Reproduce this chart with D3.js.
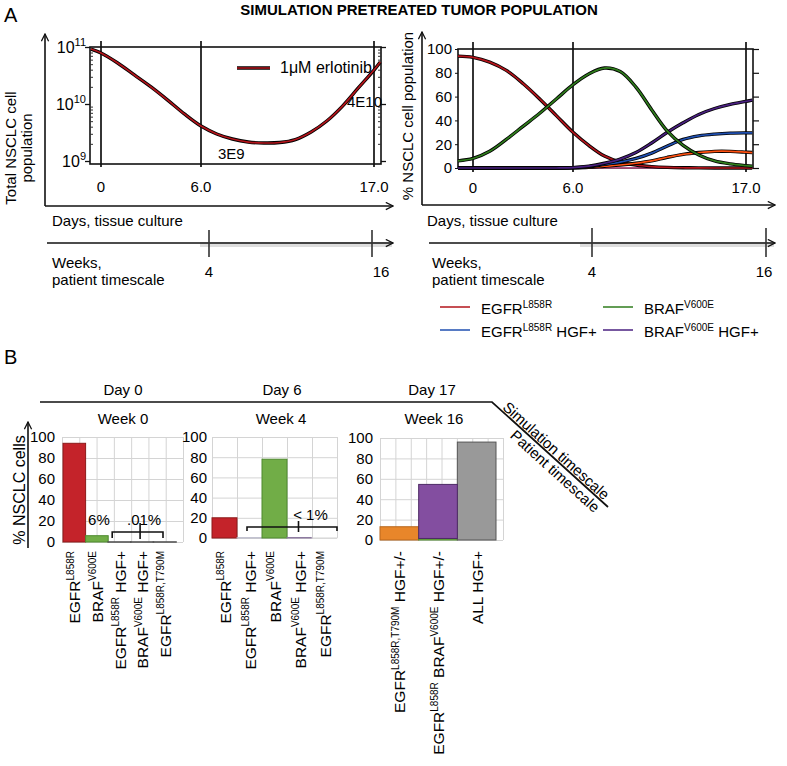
<!DOCTYPE html>
<html><head><meta charset="utf-8">
<script src="https://cdn.jsdelivr.net/npm/d3@7"></script>
<style>
body{margin:0;background:#fff}
text{font-family:"Liberation Sans",Arial,Helvetica,sans-serif;fill:#000}
</style>
</head><body>
<svg id="c" width="787" height="766"></svg>
<script>
// ---------------- DATA ----------------
// Panel A left: total NSCLC cell population (1 uM erlotinib)
const totalDays  = [-0.6, 0, 1, 2, 3, 4, 5, 6, 7, 8, 9, 10, 11, 12, 13, 14, 15, 16, 17, 17.4];
const totalCells = [9.2e10, 7.85e10, 5.24e10, 3.23e10, 1.99e10, 1.17e10, 6.7e9, 4.1e9, 2.98e9, 2.43e9, 2.15e9, 2.07e9, 2.11e9, 2.38e9, 3.23e9, 5.04e9, 9.2e9, 1.91e10, 3.94e10, 5.46e10];
const logTicks = [1e9, 1e10, 1e11];
const logTickLabels = ["10^{9}", "10^{10}", "10^{11}"];
const dayMarks = [0, 6, 17];
const dayLabels = ["0", "6.0", "17.0"];
const weekMarks = [4, 16];

// Panel A right: % NSCLC cell population
const pctDays     = [-0.9, 0, 1, 2, 3, 4, 5, 6, 7, 8, 9, 10, 11, 12, 13, 14, 15, 16, 17, 17.4];
const pctEGFR     = [94, 93, 89, 82, 71, 58, 44, 30, 19, 10, 5, 2.5, 1.2, 0.5, 0.2, 0.1, 0, 0, 0, 0];
const pctBRAF     = [6, 8, 14, 24, 35, 46, 58, 70, 79, 84, 81, 68, 49, 31, 19, 11, 6, 3.5, 2, 1.5];
const pctEGFRHGF  = [0, 0, 0, 0, 0, 0, 0, 0.2, 1, 3, 5, 8, 12.5, 18.5, 24, 27, 28.5, 29.3, 29.5, 29.5];
const pctBRAFHGF  = [0, 0, 0, 0, 0, 0, 0, 0.3, 1.5, 4, 7.5, 13, 21, 30, 38, 45, 50, 53.5, 56, 57];
const pctT790MHGF = [0, 0, 0, 0, 0, 0, 0, 0.1, 0.5, 1.5, 2.5, 4, 6, 9, 11.5, 13, 14, 14, 13.3, 13];
const pctT790M    = [0.1, 0.1, 0.1, 0.1, 0.1, 0.1, 0.1, 0.1, 0.1, 0.1, 0.1, 0.1, 0.1, 0.1, 0.1, 0.1, 0.1, 0.1, 0.1, 0.1];
const pctTicks = [0, 20, 40, 60, 80, 100];
const legendNames = ["EGFR^{L858R}", "BRAF^{V600E}", "EGFR^{L858R} HGF+", "BRAF^{V600E} HGF+"];

// Panel B bar charts
const barTicks = [0, 20, 40, 60, 80, 100];
const week0Cats = ["EGFR^{L858R}", "BRAF^{V600E}", "EGFR^{L858R} HGF+", "BRAF^{V600E} HGF+", "EGFR^{L858R,T790M}"];
const week0Vals = [94, 6, 0.01, 0.01, 0.01];
const week4Cats = ["EGFR^{L858R}", "EGFR^{L858R} HGF+", "BRAF^{V600E}", "BRAF^{V600E} HGF+", "EGFR^{L858R,T790M}"];
const week4Vals = [20, 0.3, 78, 0.5, 0.1];
const week16Cats = ["EGFR^{L858R,T790M} HGF+/-", "EGFR^{L858R} BRAF^{V600E} HGF+/-", "ALL HGF+"];
const week16Lower = [13, 1.5, 96];
const week16Upper = [0, 53, 0];

// ---------------- DRAWING ----------------
const svg = d3.select("#c");
svg.append("rect").attr("width", 787).attr("height", 766).attr("fill", "#fff");
const defs = svg.append("defs");
defs.append("marker").attr("id", "arr").attr("viewBox", "0 0 10 10")
  .attr("refX", 9).attr("refY", 5).attr("markerWidth", 9).attr("markerHeight", 9)
  .attr("markerUnits", "userSpaceOnUse").attr("orient", "auto")
  .append("path").attr("d", "M1,1 L9,5 L1,9").attr("fill", "none").attr("stroke", "#111").attr("stroke-width", 1.4);

function rich(sel, str, size, supSize) {
  const parts = str.split(/(\^\{[^}]*\})/).filter(s => s.length);
  let shifted = false;
  parts.forEach(p => {
    if (p.startsWith("^{")) {
      sel.append("tspan").text(p.slice(2, -1)).attr("font-size", supSize).attr("dy", -size * 0.42);
      shifted = true;
    } else {
      const t = sel.append("tspan").text(p).attr("font-size", size);
      if (shifted) { t.attr("dy", size * 0.42); shifted = false; }
    }
  });
}
function txt(x, y, s, size, anchor, weight) {
  return svg.append("text").attr("x", x).attr("y", y).attr("font-size", size)
    .attr("text-anchor", anchor || "start").attr("font-weight", weight || "normal").text(s);
}
function arrowLine(x1, y1, x2, y2, w) {
  svg.append("line").attr("x1", x1).attr("y1", y1).attr("x2", x2).attr("y2", y2)
    .attr("stroke", "#111").attr("stroke-width", w || 1.6).attr("marker-end", "url(#arr)");
}
const smooth = d3.curveCatmullRom.alpha(0.5);

// Titles
txt(419, 15, "SIMULATION PRETREATED TUMOR POPULATION", 15, "middle", "bold");
txt(4, 22, "A", 20);
txt(4, 364, "B", 20);

// ===== Panel A left =====
const xL = d3.scaleLinear().domain([0, 6, 17]).range([101, 201, 374]);
const yL = d3.scaleLog().domain([1e9, 1e11]).range([161, 47]);
const gL = svg.append("g");
gL.append("rect").attr("x", 90).attr("y", 47).attr("width", 291).attr("height", 117)
  .attr("fill", "none").attr("stroke", "#111").attr("stroke-width", 1.6);
const minor = yL.ticks().filter(v => !logTicks.includes(v));
[[90, d3.axisRight], [381, d3.axisLeft]].forEach(([x, ax]) => {
  gL.append("g").attr("transform", `translate(${x},0)`)
    .call(ax(yL).tickValues(minor).tickSize(3).tickFormat(""))
    .call(g => g.select(".domain").remove())
    .call(g => g.selectAll("line").attr("stroke", "#333").attr("stroke-width", 1));
});
[[90, d3.axisLeft], [381, d3.axisRight]].forEach(([x, ax]) => {
  gL.append("g").attr("transform", `translate(${x},0)`)
    .call(ax(yL).tickValues(logTicks).tickSize(5).tickFormat(""))
    .call(g => g.select(".domain").remove())
    .call(g => g.selectAll("line").attr("stroke", "#111").attr("stroke-width", 1.3));
});
logTicks.forEach((v, i) => {
  const t = gL.append("text").attr("x", 86).attr("y", yL(v) + 6).attr("text-anchor", "end");
  rich(t, logTickLabels[i], 16, 11);
});
dayMarks.forEach((d, i) => {
  gL.append("line").attr("x1", xL(d)).attr("x2", xL(d)).attr("y1", 41).attr("y2", 167)
    .attr("stroke", "#111").attr("stroke-width", 1.7);
  gL.append("text").attr("x", xL(d)).attr("y", 192).attr("text-anchor", "middle")
    .attr("font-size", 15).text(dayLabels[i]);
});
const lineL = d3.line().x(d => xL(d[0])).y(d => yL(d[1])).curve(smooth);
const totalPts = totalDays.map((d, i) => [d, totalCells[i]]);
gL.append("path").attr("d", lineL(totalPts)).attr("fill", "none").attr("stroke", "#000").attr("stroke-width", 3.4);
gL.append("path").attr("d", lineL(totalPts)).attr("fill", "none").attr("stroke", "#b3141b").attr("stroke-width", 1.7);
gL.append("line").attr("x1", 237).attr("x2", 270).attr("y1", 68).attr("y2", 68).attr("stroke", "#000").attr("stroke-width", 3.4);
gL.append("line").attr("x1", 237).attr("x2", 270).attr("y1", 68).attr("y2", 68).attr("stroke", "#b3141b").attr("stroke-width", 1.7);
txt(280, 73, "1μM erlotinib", 16);
txt(218, 159, "3E9", 15);
txt(347, 107, "4E10", 15);
// axes arrows
arrowLine(45, 206, 45, 34);
arrowLine(45, 206, 393, 206);
svg.append("text").attr("transform", "translate(16,148) rotate(-90)").attr("text-anchor", "middle").attr("font-size", 15).text("Total NSCLC cell");
svg.append("text").attr("transform", "translate(32,148) rotate(-90)").attr("text-anchor", "middle").attr("font-size", 15).text("population");
txt(52, 226, "Days, tissue culture", 15);
// weeks axis
const wL = d3.scaleLinear().domain([4, 16]).range([209, 372]);
svg.append("rect").attr("x", 200).attr("y", 242).attr("width", 192).attr("height", 5).attr("fill", "#aaa").attr("opacity", 0.4);
arrowLine(47, 243, 393, 243);
weekMarks.forEach(w => {
  svg.append("line").attr("x1", wL(w)).attr("x2", wL(w)).attr("y1", 230).attr("y2", 257).attr("stroke", "#333").attr("stroke-width", 1.6);
});
txt(wL(4), 277, "4", 15, "middle");
txt(wL(16) + 9, 277, "16", 15, "middle");
txt(52, 268, "Weeks,", 15);
txt(52, 285, "patient timescale", 15);

// ===== Panel A right =====
const xR = d3.scaleLinear().domain([0, 6, 17]).range([473, 573, 746]);
const yR = d3.scaleLinear().domain([0, 100]).range([168, 49]);
const gR = svg.append("g");
gR.append("rect").attr("x", 458).attr("y", 49).attr("width", 295).attr("height", 119)
  .attr("fill", "none").attr("stroke", "#111").attr("stroke-width", 1.6);
gR.append("g").attr("transform", "translate(458,0)")
  .call(d3.axisLeft(yR).tickValues(pctTicks).tickSize(3).tickPadding(3))
  .call(g => g.select(".domain").remove())
  .call(g => g.selectAll("text").attr("font-size", 15).attr("font-family", null).attr("fill", "#000"))
  .call(g => g.selectAll("line").attr("stroke", "#111"));
gR.append("g").attr("transform", "translate(753,0)")
  .call(d3.axisRight(yR).tickValues(pctTicks).tickSize(6).tickFormat(""))
  .call(g => g.select(".domain").remove())
  .call(g => g.selectAll("line").attr("stroke", "#111").attr("stroke-width", 1.2));
dayMarks.forEach((d, i) => {
  gR.append("line").attr("x1", xR(d)).attr("x2", xR(d)).attr("y1", 42).attr("y2", 172)
    .attr("stroke", "#111").attr("stroke-width", 1.7);
  gR.append("text").attr("x", xR(d)).attr("y", 193).attr("text-anchor", "middle")
    .attr("font-size", 15).text(dayLabels[i]);
});
const lineR = d3.line().x(d => xR(d[0])).y(d => yR(Math.max(0, d[1]))).curve(smooth);
const seriesR = [
  { v: pctT790M, c: "#e0559a", o: false },
  { v: pctEGFR, c: "#b3141b", o: true },
  { v: pctT790MHGF, c: "#ff5010", o: true },
  { v: pctEGFRHGF, c: "#1f4fb0", o: true },
  { v: pctBRAFHGF, c: "#4a2080", o: true },
  { v: pctBRAF, c: "#2f7d1c", o: true }
];
seriesR.forEach(s => {
  const pts = pctDays.map((d, i) => [d, s.v[i]]);
  if (s.o) gR.append("path").attr("d", lineR(pts)).attr("fill", "none").attr("stroke", "#000").attr("stroke-width", 3.4);
  gR.append("path").attr("d", lineR(pts)).attr("fill", "none").attr("stroke", s.c).attr("stroke-width", s.o ? 1.7 : 1.3);
});
arrowLine(422, 205, 422, 32);
arrowLine(422, 205, 775, 205);
svg.append("text").attr("transform", "translate(413,116) rotate(-90)").attr("text-anchor", "middle").attr("font-size", 15).text("% NSCLC cell population");
txt(427, 226, "Days, tissue culture", 15);
const wR = d3.scaleLinear().domain([4, 16]).range([592, 766]);
svg.append("rect").attr("x", 580).attr("y", 242).attr("width", 194).attr("height", 5).attr("fill", "#aaa").attr("opacity", 0.4);
arrowLine(429, 243, 775, 243);
weekMarks.forEach(w => {
  svg.append("line").attr("x1", wR(w)).attr("x2", wR(w)).attr("y1", 228).attr("y2", 257).attr("stroke", "#333").attr("stroke-width", 1.6);
});
txt(wR(4), 277, "4", 15, "middle");
txt(wR(16) - 2, 277, "16", 15, "middle");
txt(432, 268, "Weeks,", 15);
txt(432, 285, "patient timescale", 15);
// legend
const legColors = ["#b3141b", "#2f7d1c", "#1f4fb0", "#4a2080"];
const legPos = [[440, 307], [603, 307], [440, 330], [603, 330]];
legendNames.forEach((n, i) => {
  const [lx, ly] = legPos[i];
  svg.append("line").attr("x1", lx).attr("x2", lx + 30).attr("y1", ly).attr("y2", ly).attr("stroke", legColors[i]).attr("stroke-width", 1.5);
  const t = svg.append("text").attr("x", lx + 41).attr("y", ly + 7);
  rich(t, n, 15, 10);
});

// ===== Panel B =====
svg.append("path").attr("d", "M40,402 L492,402 L608,507").attr("fill", "none").attr("stroke", "#111").attr("stroke-width", 1.7);
txt(123, 395, "Day 0", 15, "middle");
txt(282, 395, "Day 6", 15, "middle");
txt(432, 395, "Day 17", 15, "middle");
txt(123, 424, "Week 0", 15, "middle");
txt(281, 424, "Week 4", 15, "middle");
txt(434, 424, "Week 16", 15, "middle");
{
  const ang = Math.atan2(105, 116) * 180 / Math.PI;
  const dir = [0.741, 0.671], nrm = [0.671, -0.741], mid = [550, 454.5];
  const c1 = [mid[0] + 2 * dir[0] + 7 * nrm[0], mid[1] + 2 * dir[1] + 7 * nrm[1]];
  const c2 = [mid[0] + 15 * dir[0] - 9 * nrm[0], mid[1] + 15 * dir[1] - 9 * nrm[1]];
  svg.append("text").attr("transform", `translate(${c1[0]},${c1[1]}) rotate(${ang})`).attr("text-anchor", "middle").attr("dy", "0.35em").attr("font-size", 15).text("Simulation timescale");
  svg.append("text").attr("transform", `translate(${c2[0]},${c2[1]}) rotate(${ang})`).attr("text-anchor", "middle").attr("dy", "0.35em").attr("font-size", 15).text("Patient timescale");
}
arrowLine(28, 548, 28, 422);
svg.append("text").attr("transform", "translate(25,490) rotate(-90)").attr("text-anchor", "middle").attr("font-size", 16).text("% NSCLC cells");

function barChart(cfg) {
  const g = svg.append("g");
  const y = d3.scaleLinear().domain([0, 100]).range([cfg.y0, cfg.y1]);
  const x = d3.scaleBand().domain(d3.range(cfg.cats.length)).range(cfg.bandRange).padding(0);
  const gx = d3.scaleLinear().domain([0, cfg.cols]).range([cfg.left, cfg.right]);
  g.append("g").attr("transform", `translate(${cfg.left},0)`)
    .call(d3.axisLeft(y).tickValues(barTicks).tickSize(-(cfg.right - cfg.left)).tickFormat(""))
    .call(s => s.select(".domain").remove())
    .call(s => s.selectAll("line").attr("stroke", "#d4d4d4").attr("stroke-width", 1));
  g.append("g").attr("transform", `translate(0,${cfg.y0})`)
    .call(d3.axisBottom(gx).tickValues(d3.range(cfg.cols + 1)).tickSize(-(cfg.y0 - cfg.y1)).tickFormat(""))
    .call(s => s.select(".domain").remove())
    .call(s => s.selectAll("line").attr("stroke", "#d4d4d4").attr("stroke-width", 1));
  g.append("g").attr("transform", `translate(${cfg.labelX},0)`)
    .call(d3.axisLeft(y).tickValues(barTicks).tickSize(0).tickPadding(0))
    .call(s => s.select(".domain").remove())
    .call(s => s.selectAll("text").attr("font-size", 15).attr("font-family", null).attr("fill", "#000"));
  cfg.series.forEach(ser => {
    g.selectAll(null).data(ser.vals).enter().append("rect")
      .attr("x", (d, i) => x(i))
      .attr("width", x.bandwidth())
      .attr("y", (d, i) => y((ser.base ? ser.base[i] : 0) + d))
      .attr("height", d => y(0) - y(d))
      .attr("fill", (d, i) => ser.colors[i])
      .attr("stroke", (d, i) => ser.strokes[i])
      .attr("stroke-width", (d, i) => ser.sw ? ser.sw[i] : 1)
      .attr("display", d => d > 0 ? null : "none");
  });
  cfg.cats.forEach((c, i) => {
    const t = g.append("text")
      .attr("transform", `translate(${x(i) + x.bandwidth() / 2 + 6},${cfg.labelY}) rotate(-90)`)
      .attr("text-anchor", "end");
    rich(t, c, 15.5, 10);
  });
  return { x, y };
}

const red = "#c4232a", green = "#71ad47", orange = "#e8862a", purple = "#834ea0", grey = "#999999";
const c0 = barChart({
  cats: week0Cats, cols: 7, left: 62, right: 183, y0: 542, y1: 437, bandRange: [63, 176], labelX: 55, labelY: 551,
  series: [{ vals: week0Vals, colors: [red, green, "#555", "#555", "#555"], strokes: ["#8c1a1a", "#4e8a2e", "#555", "#555", "#555"], sw: [1, 1, 1.6, 1.6, 1.6] }]
});
const c1 = barChart({
  cats: week4Cats, cols: 5, left: 212, right: 337, y0: 538, y1: 437, bandRange: [212, 337], labelX: 207, labelY: 551,
  series: [{ vals: week4Vals, colors: [red, "#c9c9d8", green, purple, "#ddd"], strokes: ["#8c1a1a", "#b8b8c8", "#4e8a2e", "#8d7aa0", "#ddd"] }]
});
const c2 = barChart({
  cats: week16Cats, cols: 8, left: 380, right: 503, y0: 540, y1: 438, bandRange: [380, 496], labelX: 373, labelY: 551,
  series: [
    { vals: week16Lower, colors: [orange, green, grey], strokes: ["#b8661c", "#4e8a2e", "#555"] },
    { vals: week16Upper, base: week16Lower, colors: [orange, purple, grey], strokes: ["#b8661c", "#4e2a66", "#555"] }
  ]
});
function bracket(x1, x2, xm, yb, yEnd, yTop) {
  svg.append("path").attr("d", `M${x1},${yEnd} L${x1},${yb} L${x2},${yb} L${x2},${yEnd}`).attr("fill", "none").attr("stroke", "#111").attr("stroke-width", 1.6);
  svg.append("line").attr("x1", xm).attr("x2", xm).attr("y1", yTop).attr("y2", yEnd + 1).attr("stroke", "#111").attr("stroke-width", 1.6);
}
bracket(c0.x(2) + 4, c0.x(4) + c0.x.bandwidth() - 13, c0.x(3) + c0.x.bandwidth() / 2 - 2, 532, 538, 523);
txt(c0.x(1) + c0.x.bandwidth() / 2 + 2, 525, "6%", 15, "middle");
txt(c0.x(3) + c0.x.bandwidth() / 2 + 2, 525, ".01%", 15, "middle");
bracket(c1.x(1) + 10, c1.x(4) + c1.x.bandwidth(), c1.x(3) + c1.x.bandwidth() / 2 - 1, 527, 531, 521);
txt(c1.x(3) + c1.x.bandwidth() / 2 + 11, 520, "< 1%", 15, "middle");
</script>
</body></html>
